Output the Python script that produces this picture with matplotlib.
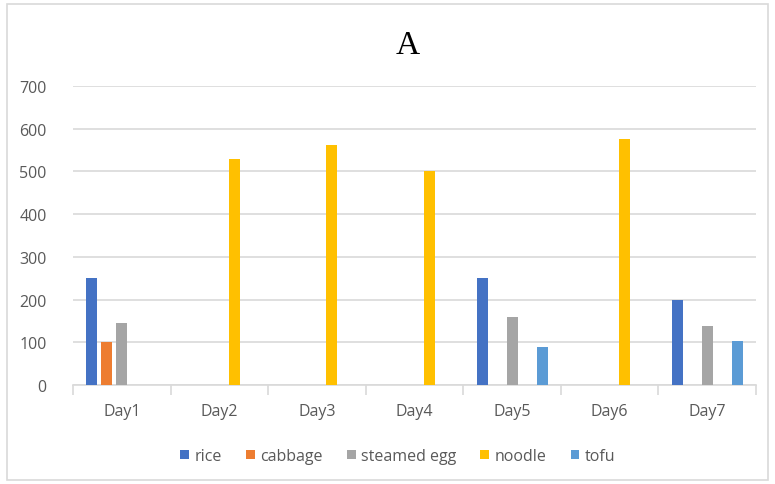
import numpy as np
import matplotlib.pyplot as plt
from matplotlib.patches import Rectangle

days = ["Day1", "Day2", "Day3", "Day4", "Day5", "Day6", "Day7"]
series_names = ["rice", "cabbage", "steamed egg", "noodle", "tofu"]
rice = [250, 0, 0, 0, 250, 0, 200]
cabbage = [100, 0, 0, 0, 0, 0, 0]
steamed_egg = [145, 0, 0, 0, 160, 0, 138]
noodle = [0, 530, 562, 500, 0, 577, 0]
tofu = [0, 0, 0, 0, 90, 0, 102]
colors = ["#4472C4", "#ED7D31", "#A5A5A5", "#FFC000", "#5B9BD5"]
yticks = [0, 100, 200, 300, 400, 500, 600, 700]

W, H = 775, 485
fig = plt.figure(figsize=(W / 100, H / 100), dpi=100)
ax = fig.add_axes([73 / W, 1 - 386 / H, (756 - 73) / W, (386 - 87) / H])

label_font = "Open Sans"
tick_color = "#595959"
fs = 11.5

x = np.arange(len(days))
pitch = 0.154
width = 0.113
for i, (vals, c, name) in enumerate(zip([rice, cabbage, steamed_egg, noodle, tofu], colors, series_names)):
    ax.bar(x + (i - 2) * pitch, vals, width=width, color=c, label=name, zorder=3)

ax.set_xlim(-0.5, len(days) - 0.5)
ax.set_ylim(0, 700)
ax.set_yticks(yticks)
ax.set_yticklabels([str(v) for v in yticks], fontfamily=label_font, fontsize=fs, color=tick_color)
ax.yaxis.grid(True, color="#D9D9D9", linewidth=1.2, zorder=0)
ax.tick_params(axis="y", length=0, pad=19)

ax.set_xticks(x)
ax.set_xticklabels(days, fontfamily=label_font, fontsize=fs, color=tick_color)
ax.tick_params(axis="x", length=0, pad=13)
# category boundary ticks
ax.set_xticks(np.arange(-0.5, len(days)), minor=True)
ax.tick_params(axis="x", which="minor", length=7, color="#D9D9D9", width=1.2)

for side in ["top", "right", "left"]:
    ax.spines[side].set_visible(False)
ax.spines["bottom"].set_color("#D9D9D9")
ax.spines["bottom"].set_linewidth(1.2)

fig.text(408 / W, 1 - 46 / H, "A", ha="center", va="center",
         fontfamily="Liberation Serif", fontsize=24, color="black")

leg = fig.legend(loc="center", bbox_to_anchor=(398 / W, 1 - 457 / H), ncol=5,
                 frameon=False, handlelength=0.55, handleheight=0.55,
                 handletextpad=0.35, columnspacing=1.5,
                 prop={"family": label_font, "size": fs})
for t in leg.get_texts():
    t.set_color(tick_color)

# outer chart frame
fig.patches.append(Rectangle((7 / W, 1 - 481 / H), (768 - 7) / W, (481 - 5) / H,
                             transform=fig.transFigure, fill=False,
                             edgecolor="#D9D9D9", linewidth=1.2))

fig.savefig("out.png", dpi=100)
